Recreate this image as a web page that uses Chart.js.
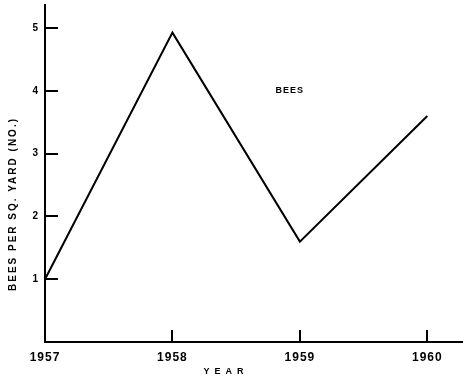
<!DOCTYPE html>
<html>
<head>
<meta charset="utf-8">
<script src="https://cdn.jsdelivr.net/npm/chart.js@4/dist/chart.umd.min.js"></script>
<style>
  html, body { margin: 0; padding: 0; background: #fff; }
  #wrap { width: 463px; height: 378px; }
</style>
</head>
<body>
<div id="wrap"><canvas id="bees"></canvas></div>
<script>
const years = [1957, 1958, 1959, 1960];
const beesPerYard = [1.0, 4.93, 1.6, 3.6];
const yTicks = [0, 1, 2, 3, 4, 5];
const seriesLabel = 'BEES';
const labelPos = { x: 1958.92, y: 4.0 };
const xTitle = 'YEAR';
const yTitle = 'BEES PER SQ. YARD (NO.)';

const FONT = '"Liberation Sans"';

// letter spacing, axis titles and the "BEES" label
const letterPlugin = {
    id: 'letters',
    beforeDraw(chart) {
        chart.ctx.letterSpacing = '1px';
    },
    afterDraw(chart) {
        const ctx = chart.ctx;
        const area = chart.chartArea;
        const x = chart.scales.x.getPixelForValue(labelPos.x);
        const y = chart.scales.y.getPixelForValue(labelPos.y);
        ctx.save();
        ctx.fillStyle = '#000';
        ctx.textAlign = 'center';
        ctx.textBaseline = 'middle';

        ctx.letterSpacing = '1px';
        ctx.font = 'bold 9px ' + FONT;
        ctx.fillText(seriesLabel, x, y);

        // x title, a bit left of centre as in the original
        ctx.letterSpacing = '5px';
        ctx.font = 'bold 9px ' + FONT;
        ctx.fillText(xTitle, area.left + 181, chart.height - 6);

        // y title, rotated
        ctx.letterSpacing = '2px';
        ctx.font = 'bold 10px ' + FONT;
        ctx.translate(13, area.top + 199);
        ctx.rotate(-Math.PI / 2);
        ctx.fillText(yTitle, 0, 0);
        ctx.restore();
    }
};

const ctx = document.getElementById('bees').getContext('2d');
new Chart(ctx, {
    type: 'line',
    data: {
        datasets: [{
            label: seriesLabel,
            data: years.map((yr, i) => ({ x: yr, y: beesPerYard[i] })),
            borderColor: '#000',
            borderWidth: 2,
            pointRadius: 0,
            fill: false,
            tension: 0
        }]
    },
    options: {
        responsive: true,
        maintainAspectRatio: false,
        animation: false,
        layout: { padding: { top: 5, left: 0, right: 0, bottom: 0 } },
        plugins: {
            legend: { display: false },
            tooltip: { enabled: false }
        },
        scales: {
            x: {
                type: 'linear',
                min: 1957,
                max: 1960.28,
                afterBuildTicks: scale => { scale.ticks = years.map(v => ({ value: v })); },
                afterFit: scale => {
                    scale.height = 36;
                    scale.paddingLeft = 0;
                    scale.paddingRight = 0;
                },
                border: { color: '#000', width: 2 },
                grid: { drawOnChartArea: false, drawTicks: true, tickLength: -12, color: '#000', lineWidth: 2 },
                ticks: {
                    color: '#000',
                    padding: 20,
                    maxRotation: 0,
                    font: { family: 'Liberation Sans', weight: 'bold', size: 12 },
                    callback: v => String(v)
                }
            },
            y: {
                min: 0,
                max: 5.37,
                afterBuildTicks: scale => { scale.ticks = yTicks.map(v => ({ value: v })); },
                afterFit: scale => {
                    scale.width = 45;
                    scale.paddingTop = 0;
                    scale.paddingBottom = 0;
                },
                border: { color: '#000', width: 2 },
                grid: { drawOnChartArea: false, drawTicks: true, tickLength: -13, color: '#000', lineWidth: 2 },
                ticks: {
                    color: '#000',
                    padding: 19,
                    font: { family: 'Liberation Sans', weight: 'bold', size: 10 },
                    callback: v => v === 0 ? '' : String(v)
                }
            }
        }
    },
    plugins: [letterPlugin]
});
</script>
</body>
</html>
